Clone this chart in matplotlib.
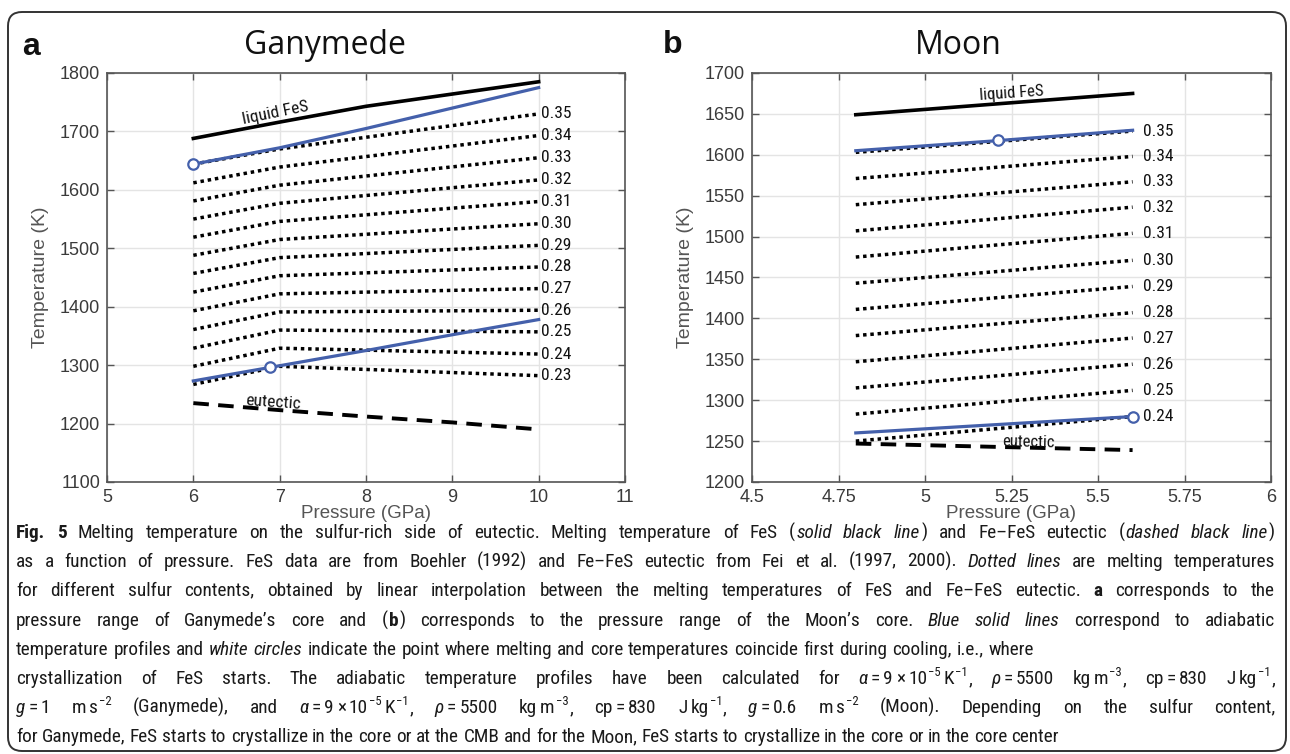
import matplotlib
matplotlib.use("Agg")
import matplotlib.pyplot as plt
from matplotlib import font_manager as fm
from matplotlib.patches import FancyBboxPatch
from matplotlib.transforms import IdentityTransform

W, H = 1290, 754

# ---------------- Ganymede (panel a) ----------------
gan_p = [6, 7, 8, 9, 10]
gan_fes = [1688, 1716, 1743, 1764, 1785]
gan_eutectic = [1235, 1223, 1212, 1202, 1190]
gan_adiabat_cmb = [1644, 1672, 1705, 1740, 1775]
gan_adiabat_low = [1273, 1299, 1325, 1352, 1378]
gan_onset_p = [6.0, 6.89]
gan_onset_t = [1644, 1296]
gan_dot_p = [6, 7, 10]
gan_sulfur = ["0.35", "0.34", "0.33", "0.32", "0.31", "0.30", "0.29",
              "0.28", "0.27", "0.26", "0.25", "0.24", "0.23"]
gan_dotted = [
    [1644, 1670, 1730],
    [1612, 1639, 1693],
    [1581, 1608, 1655],
    [1550, 1577, 1617],
    [1519, 1546, 1580],
    [1488, 1515, 1542],
    [1457, 1484, 1505],
    [1425, 1453, 1468],
    [1393, 1422, 1431],
    [1361, 1391, 1394],
    [1329, 1360, 1357],
    [1298, 1329, 1319],
    [1267, 1298, 1282],
]
gan_xticks = [5, 6, 7, 8, 9, 10, 11]
gan_yticks = [1100, 1200, 1300, 1400, 1500, 1600, 1700, 1800]

# ---------------- Moon (panel b) ----------------
moon_p = [4.8, 5.2, 5.6]
moon_fes = [1649, 1662, 1675]
moon_eutectic = [1247, 1243, 1239]
moon_adiabat_hi = [1605, 1617, 1630]
moon_adiabat_lo = [1260, 1270, 1280]
moon_onset_p = [5.21, 5.6]
moon_onset_t = [1618, 1280]
moon_dot_p = [4.8, 5.6]
moon_sulfur = ["0.35", "0.34", "0.33", "0.32", "0.31", "0.30", "0.29",
               "0.28", "0.27", "0.26", "0.25", "0.24"]
moon_dotted = [
    [1603, 1629],
    [1571, 1598],
    [1539, 1567],
    [1507, 1536],
    [1475, 1504],
    [1443, 1471],
    [1411, 1439],
    [1379, 1407],
    [1347, 1376],
    [1315, 1344],
    [1283, 1312],
    [1250, 1280],
]
moon_xticks = [4.5, 4.75, 5, 5.25, 5.5, 5.75, 6]
moon_xticklabels = ["4.5", "4.75", "5", "5.25", "5.5", "5.75", "6"]
moon_yticks = [1200, 1250, 1300, 1350, 1400, 1450, 1500, 1550, 1600, 1650, 1700]

# ---------------- caption ----------------
# markup: #bold#, _italic_, ^{superscript}, ~ fixed thin gap
caption_lines = [
    "#Fig. 5# Melting temperature on the sulfur-rich side of eutectic. Melting temperature of FeS (_solid black line_) and Fe–FeS eutectic (_dashed black line_)",
    "as a function of pressure. FeS data are from Boehler (1992) and Fe–FeS eutectic from Fei et al. (1997, 2000). _Dotted lines_ are melting temperatures",
    "for different sulfur contents, obtained by linear interpolation between the melting temperatures of FeS and Fe–FeS eutectic. #a# corresponds to the",
    "pressure range of Ganymede’s core and (#b#) corresponds to the pressure range of the Moon’s core. _Blue solid lines_ correspond to adiabatic",
    "temperature profiles and _white circles_ indicate the point where melting and core temperatures coincide first during cooling, i.e., where",
    "crystallization of FeS starts. The adiabatic temperature profiles have been calculated for _α_~=~9~×~10^{−5}~K^{−1}, _ρ_~=~5500 kg~m^{−3}, cp~=~830 J~kg^{−1},",
    "_g_~=~1 m~s^{−2} (Ganymede), and _α_~=~9~×~10^{−5}~K^{−1}, _ρ_~=~5500 kg~m^{−3}, cp~=~830 J~kg^{−1}, _g_~=~0.6 m~s^{−2} (Moon). Depending on the sulfur content,",
    "for Ganymede, FeS starts to crystallize in the core or at the CMB and for the Moon, FeS starts to crystallize in the core or in the core center",
]
caption_justified = [True, True, True, True, False, True, True, False]
# shortest right end allowed for the ragged lines, in pixels
caption_ends = [1275, 1275, 1275, 1275, 1034, 1275, 1275, 934]

_fonts = fm.fontManager.ttflist
_names = {f.name for f in _fonts}


def narrow_font():
    for name in ["Liberation Sans Narrow", "Arial Narrow", "DejaVu Sans Condensed",
                 "Roboto Condensed", "Open Sans Condensed", "Noto Sans Condensed"]:
        if name in _names:
            return {"family": [name, "DejaVu Sans"]}
    for f in _fonts:
        if f.stretch in ("condensed", "semi-condensed") and f.name in (
                "Roboto", "Open Sans", "Noto Sans", "DejaVu Sans", "Liberation Sans"):
            return {"family": [f.name, "DejaVu Sans"], "fontstretch": f.stretch}
    for name in ["Roboto", "Lato", "Liberation Sans"]:
        if name in _names:
            return {"family": [name, "DejaVu Sans"]}
    return {"family": ["DejaVu Sans"]}


NARROW = narrow_font()
plt.rcParams["font.family"] = ["Liberation Sans", "DejaVu Sans"]

BLUE = "#4460ab"
GRID = "#e4e4e4"
TXT = "#3a3a3a"

fig = plt.figure(figsize=(W / 100, H / 100), dpi=100)


def px_axes(x0, y0, x1, y1):
    return fig.add_axes([x0 / W, 1 - y1 / H, (x1 - x0) / W, (y1 - y0) / H])


def style_axes(ax, xlim, xticks, xlabels, ylim, yticks):
    ax.set_xlim(*xlim)
    ax.set_ylim(*ylim)
    ax.set_xticks(xticks)
    ax.set_xticklabels(xlabels)
    ax.set_yticks(yticks)
    ax.grid(True, color=GRID, lw=1.0)
    ax.set_axisbelow(True)
    ax.tick_params(direction="in", length=5, width=1, colors="#555555",
                   labelcolor=TXT, top=True, right=True, labelsize=13)
    ax.tick_params(axis="x", pad=5)
    ax.tick_params(axis="y", pad=5)
    for s in ax.spines.values():
        s.set_color("#555555")
        s.set_linewidth(1.2)
    ax.set_xlabel("Pressure (GPa)", fontsize=13.5, color="#555555", labelpad=-1)
    ax.set_ylabel("Temperature (K)", fontsize=14, color="#555555", labelpad=8)


# ---------- panel a ----------
ax1 = px_axes(107, 73, 625, 482)
style_axes(ax1, (5, 11), gan_xticks, [str(v) for v in gan_xticks],
           (1100, 1800), gan_yticks)
for lab, temps in zip(gan_sulfur, gan_dotted):
    ax1.plot(gan_dot_p, temps, color="black", lw=2.5, ls=(0, (1, 1.1)),
             zorder=2)
    ax1.text(gan_dot_p[-1] + 0.025, temps[-1], lab, fontsize=12.5,
             ha="left", va="center", color="#111111", **NARROW)
ax1.plot(gan_p, gan_fes, color="black", lw=2.6, zorder=3)
ax1.plot(gan_p, gan_eutectic, color="black", lw=2.8, ls=(0, (4, 2.4)), zorder=3)
ax1.plot(gan_p, gan_adiabat_cmb, color=BLUE, lw=2.3, zorder=4)
ax1.plot(gan_p, gan_adiabat_low, color=BLUE, lw=2.3, zorder=4)
ax1.plot(gan_onset_p, gan_onset_t, ls="none", marker="o", ms=7.5, mfc="white",
         mec=BLUE, mew=1.6, zorder=5)
ax1.text(6.95, 1731, "liquid FeS", fontsize=12.5, rotation=11.5,
         ha="center", va="center", color="#111111", **NARROW)
ax1.text(6.92, 1236, "eutectic", fontsize=12.5, rotation=-4,
         ha="center", va="center", color="#111111", **NARROW)

# ---------- panel b ----------
ax2 = px_axes(752, 73, 1271, 482)
style_axes(ax2, (4.5, 6), moon_xticks, moon_xticklabels, (1200, 1700),
           moon_yticks)
for lab, temps in zip(moon_sulfur, moon_dotted):
    ax2.plot(moon_dot_p, temps, color="black", lw=2.5, ls=(0, (1, 1.1)),
             zorder=2)
    ax2.text(moon_dot_p[-1] + 0.03, temps[-1], lab, fontsize=12.5,
             ha="left", va="center", color="#111111", **NARROW)
ax2.plot(moon_p, moon_fes, color="black", lw=2.6, zorder=3)
ax2.plot(moon_p, moon_eutectic, color="black", lw=2.8, ls=(0, (4, 2.4)), zorder=3)
ax2.plot(moon_p, moon_adiabat_hi, color=BLUE, lw=2.3, zorder=4)
ax2.plot(moon_p, moon_adiabat_lo, color=BLUE, lw=2.3, zorder=4)
ax2.plot(moon_onset_p, moon_onset_t, ls="none", marker="o", ms=7.5, mfc="white",
         mec=BLUE, mew=1.6, zorder=5)
ax2.text(5.25, 1675, "liquid FeS", fontsize=12, rotation=4,
         ha="center", va="center", color="#111111", **NARROW)
ax2.text(5.30, 1249, "eutectic", fontsize=12, rotation=-1.5,
         ha="center", va="center", color="#111111", **NARROW)

# ---------- titles and panel letters ----------
fig.text(325 / W, 1 - 45 / H, "Ganymede", fontsize=23, family=["Open Sans", "DejaVu Sans"],
         ha="center", va="center", color="#111111")
fig.text(958 / W, 1 - 45 / H, "Moon", fontsize=23, family=["Open Sans", "DejaVu Sans"],
         ha="center", va="center", color="#111111")
fig.text(31 / W, 1 - 47 / H, "a", fontsize=23, fontweight="bold",
         ha="center", va="center", color="#111111")
fig.text(673 / W, 1 - 45 / H, "b", fontsize=23, fontweight="bold",
         ha="center", va="center", color="#111111")

# ---------- frame ----------
frame = FancyBboxPatch((8, 3), 1278, 739, boxstyle="round,pad=0,rounding_size=14",
                       transform=IdentityTransform(), fill=False,
                       edgecolor="#333333", lw=1.4)
fig.add_artist(frame)

# ---------- caption layout (justified, word by word) ----------
renderer = fig.canvas.get_renderer()


def parse(line):
    words, cur = [], []
    state = {"b": False, "i": False, "s": False, "buf": ""}

    def flush():
        if state["buf"]:
            cur.append((state["buf"], state["b"], state["i"], state["s"]))
            state["buf"] = ""

    i = 0
    while i < len(line):
        c = line[i]
        if c == "#":
            flush(); state["b"] = not state["b"]
        elif c == "_":
            flush(); state["i"] = not state["i"]
        elif c == "^" and i + 1 < len(line) and line[i + 1] == "{":
            flush(); state["s"] = True; i += 1
        elif c == "}" and state["s"]:
            flush(); state["s"] = False
        elif c == "~":
            flush(); cur.append((None, False, False, False))
        elif c == " ":
            flush()
            if cur:
                words.append(cur)
            cur = []
        else:
            state["buf"] += c
        i += 1
    flush()
    if cur:
        words.append(cur)
    return words


def make_text(x, y, txt, fs, b, it, s):
    return fig.text(x / W, 1 - y / H, txt, fontsize=fs * (0.66 if s else 1.0),
                    fontweight="bold" if b else "normal",
                    fontstyle="italic" if it else "normal",
                    ha="left", va="baseline", color="#1a1a1a", **NARROW)


def width_of(txt, fs, b=False, it=False, s=False):
    t = make_text(0, 0, txt, fs, b, it, s)
    w = t.get_window_extent(renderer).width
    t.remove()
    return w


def word_width(word, fs):
    total = 0.0
    for k, (txt, b, it, s) in enumerate(word):
        if txt is None:
            total += 0.16 * fs * 100 / 72
        else:
            total += width_of(txt, fs, b, it, s)
            if k + 1 < len(word) and word[k + 1][0] is not None:
                total += 0.05 * fs * 100 / 72
    return total


parsed = [parse(l) for l in caption_lines]
X0 = 16.0

# font size chosen from the justified lines, leaving them some slack
fs0 = 12.0
sp0 = width_of("a a", fs0) - width_of("aa", fs0)
ratios = []
for words, end, just in zip(parsed, caption_ends, caption_justified):
    if just:
        nat = sum(word_width(w, fs0) for w in words) + sp0 * (len(words) - 1)
        ratios.append((end - X0) / nat)
cap_fs = min(fs0 * min(ratios) * 0.885, 15.0)
space = width_of("a a", cap_fs) - width_of("aa", cap_fs)

baselines = [538 + 29.2 * k for k in range(len(parsed))]
for words, end, just, yb in zip(parsed, caption_ends, caption_justified, baselines):
    widths = [word_width(w, cap_fs) for w in words]
    n = max(len(words) - 1, 1)
    gap = (end - X0 - sum(widths)) / n
    if not just:
        gap = max(space, min(gap, 1.6 * space))
    x = X0
    for w, ww in zip(words, widths):
        xx = x
        for k, (txt, b, it, s) in enumerate(w):
            if txt is None:
                xx += 0.16 * cap_fs * 100 / 72
                continue
            raise_px = 0.40 * cap_fs * 100 / 72 if s else 0.0
            t = make_text(xx, yb - raise_px, txt, cap_fs, b, it, s)
            xx += t.get_window_extent(renderer).width
            if k + 1 < len(w) and w[k + 1][0] is not None:
                xx += 0.05 * cap_fs * 100 / 72
        x += ww + gap

fig.savefig("out.png", dpi=100)
